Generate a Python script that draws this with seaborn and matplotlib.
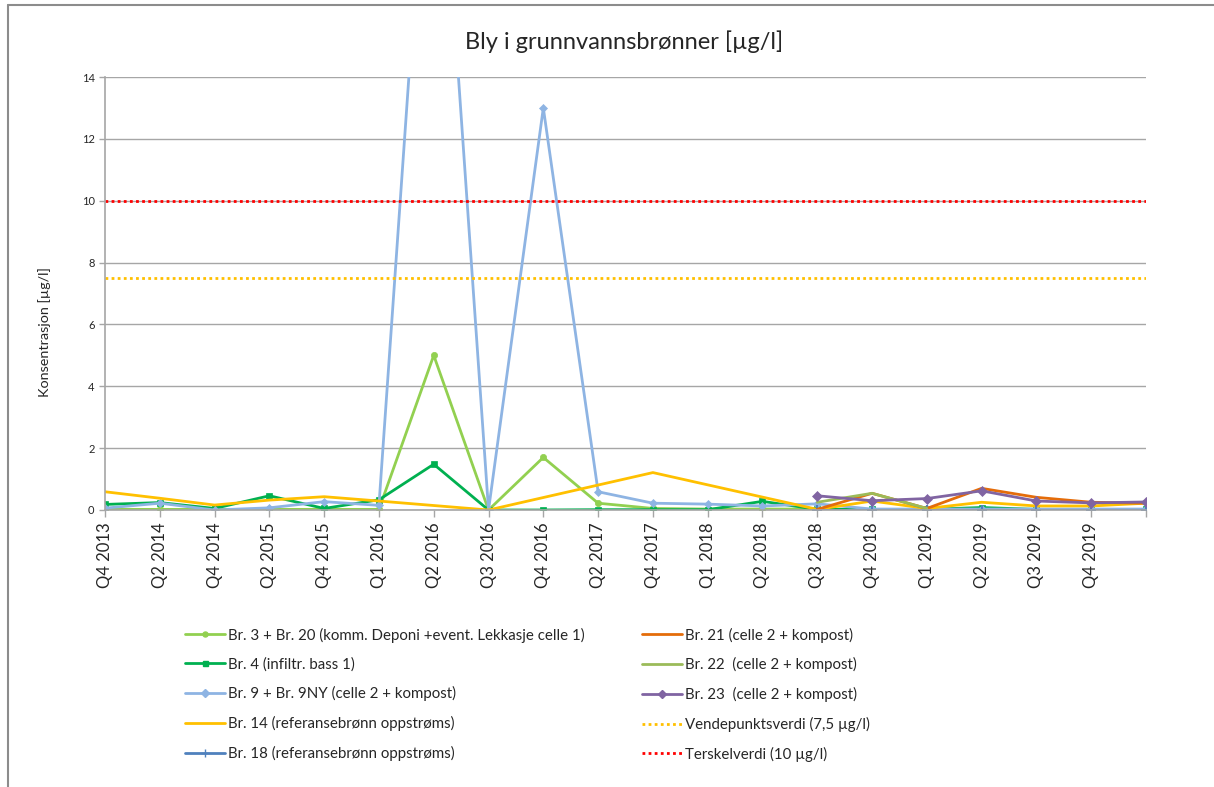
import numpy as np
import matplotlib
matplotlib.use("Agg")
import matplotlib.pyplot as plt
import seaborn as sns
from matplotlib.lines import Line2D

# Sampling rounds (the last round has no label on the axis)
quarters = ["Q4 2013", "Q2 2014", "Q4 2014", "Q2 2015", "Q4 2015", "Q1 2016",
            "Q2 2016", "Q3 2016", "Q4 2016", "Q2 2017", "Q4 2017", "Q1 2018",
            "Q2 2018", "Q3 2018", "Q4 2018", "Q1 2019", "Q2 2019", "Q3 2019",
            "Q4 2019", ""]

nan = np.nan
# Lead concentrations, µg/l (NaN = not sampled)
br3_20 = [0.02, 0.02, 0.02, 0.02, 0.02, 0.02, 5.0, 0.0, 1.7, 0.22, 0.05, 0.03,
          0.03, 0.03, nan, nan, nan, nan, nan, nan]
br4 = [0.18, 0.24, 0.05, 0.46, 0.05, 0.33, 1.48, 0.0, 0.0, 0.01, 0.01, 0.01,
       0.28, 0.02, 0.02, 0.02, 0.08, 0.02, 0.02, 0.02]
br9 = [0.06, 0.22, 0.0, 0.07, 0.27, 0.15, 25.5, 0.0, 13.0, 0.59, 0.22, 0.19,
       0.13, 0.2, 0.03, 0.03, 0.03, 0.03, 0.03, 0.03]
br14 = [0.59, 0.38, 0.16, 0.32, 0.43, 0.29, nan, 0.0, nan, nan, 1.21, nan,
        nan, 0.02, 0.29, 0.05, 0.25, 0.13, 0.13, 0.22]
br18 = [nan, nan, nan, nan, nan, nan, nan, nan, nan, nan, nan, nan,
        nan, 0.01, 0.01, 0.01, 0.01, 0.01, 0.01, 0.01]
br21 = [nan, nan, nan, nan, nan, nan, nan, nan, nan, nan, nan, nan,
        nan, 0.02, 0.54, 0.05, 0.70, 0.41, 0.25, 0.22]
br22 = [nan, nan, nan, nan, nan, nan, nan, nan, nan, nan, nan, nan,
        nan, 0.25, 0.54, 0.05, nan, nan, nan, nan]
br23 = [nan, nan, nan, nan, nan, nan, nan, nan, nan, nan, nan, nan,
        nan, 0.46, 0.30, 0.37, 0.62, 0.29, 0.23, 0.26]

vendepunkt = 7.5
terskel = 10.0

series = [
    ("Br. 3 + Br. 20 (komm. Deponi +event. Lekkasje celle 1)", br3_20, "#92D050", "o", 4.5),
    ("Br. 4 (infiltr. bass 1)", br4, "#00B050", "s", 4.5),
    ("Br. 9 + Br. 9NY (celle 2 + kompost)", br9, "#8EB4E3", "D", 4.5),
    ("Br. 14 (referansebrønn oppstrøms)", br14, "#FFC000", None, 0),
    ("Br. 18 (referansebrønn oppstrøms)", br18, "#4F81BD", "+", 7),
    ("Br. 21 (celle 2 + kompost)", br21, "#E46C0A", None, 0),
    ("Br. 22  (celle 2 + kompost)", br22, "#9BBB59", None, 0),
    ("Br. 23  (celle 2 + kompost)", br23, "#8064A2", "D", 5),
]

sns.set_style("white")
plt.rcParams["font.family"] = ["Lato", "DejaVu Sans"]
text_color = "#262626"
grid_color = "#A6A6A6"

fig = plt.figure(figsize=(12.14, 7.87), dpi=100)
ax = fig.add_axes([105 / 1214, 1 - 510 / 787, (1146 - 105) / 1214, (510 - 77) / 787])

x_all = np.arange(len(quarters))
handles = []
for label, vals, color, marker, ms in series:
    v = np.asarray(vals, dtype=float)
    ok = ~np.isnan(v)
    sns.lineplot(x=x_all[ok], y=v[ok], ax=ax, color=color, linewidth=2.0,
                 marker=marker, markersize=ms, markeredgecolor=color,
                 markeredgewidth=1.5 if marker == "+" else 0.5, legend=False)
    handles.append(Line2D([], [], color=color, linewidth=2.0, marker=marker,
                          markersize=ms * 0.8, markeredgecolor=color, label=label))

ax.axhline(vendepunkt, color="#FFC000", linewidth=2.0, linestyle=(0, (1, 1.2)))
ax.axhline(terskel, color="#FF0000", linewidth=2.0, linestyle=(0, (1, 1.2)))
handles.append(Line2D([], [], color="#FFC000", linewidth=2.0, linestyle=(0, (1, 1.2)),
                      label="Vendepunktsverdi (7,5 µg/l)"))
handles.append(Line2D([], [], color="#FF0000", linewidth=2.0, linestyle=(0, (1, 1.2)),
                      label="Terskelverdi (10 µg/l)"))

ax.set_xlim(0, len(quarters) - 1)
ax.set_ylim(0, 14)
ax.set_yticks(np.arange(0, 15, 2))
ax.set_xticks(x_all)
ax.set_xticklabels(quarters, rotation=90, fontsize=12, color=text_color)
ax.tick_params(axis="y", labelsize=8, colors=text_color, length=4, width=1,
               direction="out", left=True, color=grid_color)
ax.tick_params(axis="x", length=5, width=1, direction="out", bottom=True,
               color=grid_color, pad=4)
ax.grid(axis="y", color=grid_color, linewidth=1)
ax.grid(axis="x", visible=False)
ax.set_axisbelow(True)
for side in ("top", "right"):
    ax.spines[side].set_visible(False)
for side in ("left", "bottom"):
    ax.spines[side].set_color(grid_color)
    ax.spines[side].set_linewidth(1.2)
ax.set_xlabel("")
ax.set_ylabel("")

fig.text(624 / 1214, 1 - 42 / 787, "Bly i grunnvannsbrønner [µg/l]",
         ha="center", va="center", fontsize=17, color=text_color)
fig.text(45 / 1214, 1 - 332 / 787, "Konsentrasjon [µg/l]", rotation=90,
         ha="center", va="center", fontsize=10.4, color=text_color)

# legend: first five in the left column, the rest in the right column
fig.legend(handles=handles, loc="upper left", ncol=2,
           bbox_to_anchor=(177 / 1214, 1 - 620 / 787), frameon=False,
           fontsize=10.8, handlelength=2.7, handletextpad=0.2,
           columnspacing=3.8, labelspacing=0.98, borderpad=0,
           labelcolor=text_color)

# outer chart frame
fig.add_artist(Line2D([8 / 1214, 8 / 1214], [0, 1 - 5 / 787], transform=fig.transFigure,
                      color="#8C8C8C", linewidth=1.5))
fig.add_artist(Line2D([8 / 1214, 1], [1 - 5 / 787, 1 - 5 / 787], transform=fig.transFigure,
                      color="#8C8C8C", linewidth=1.5))

fig.savefig("out.png", dpi=100)
